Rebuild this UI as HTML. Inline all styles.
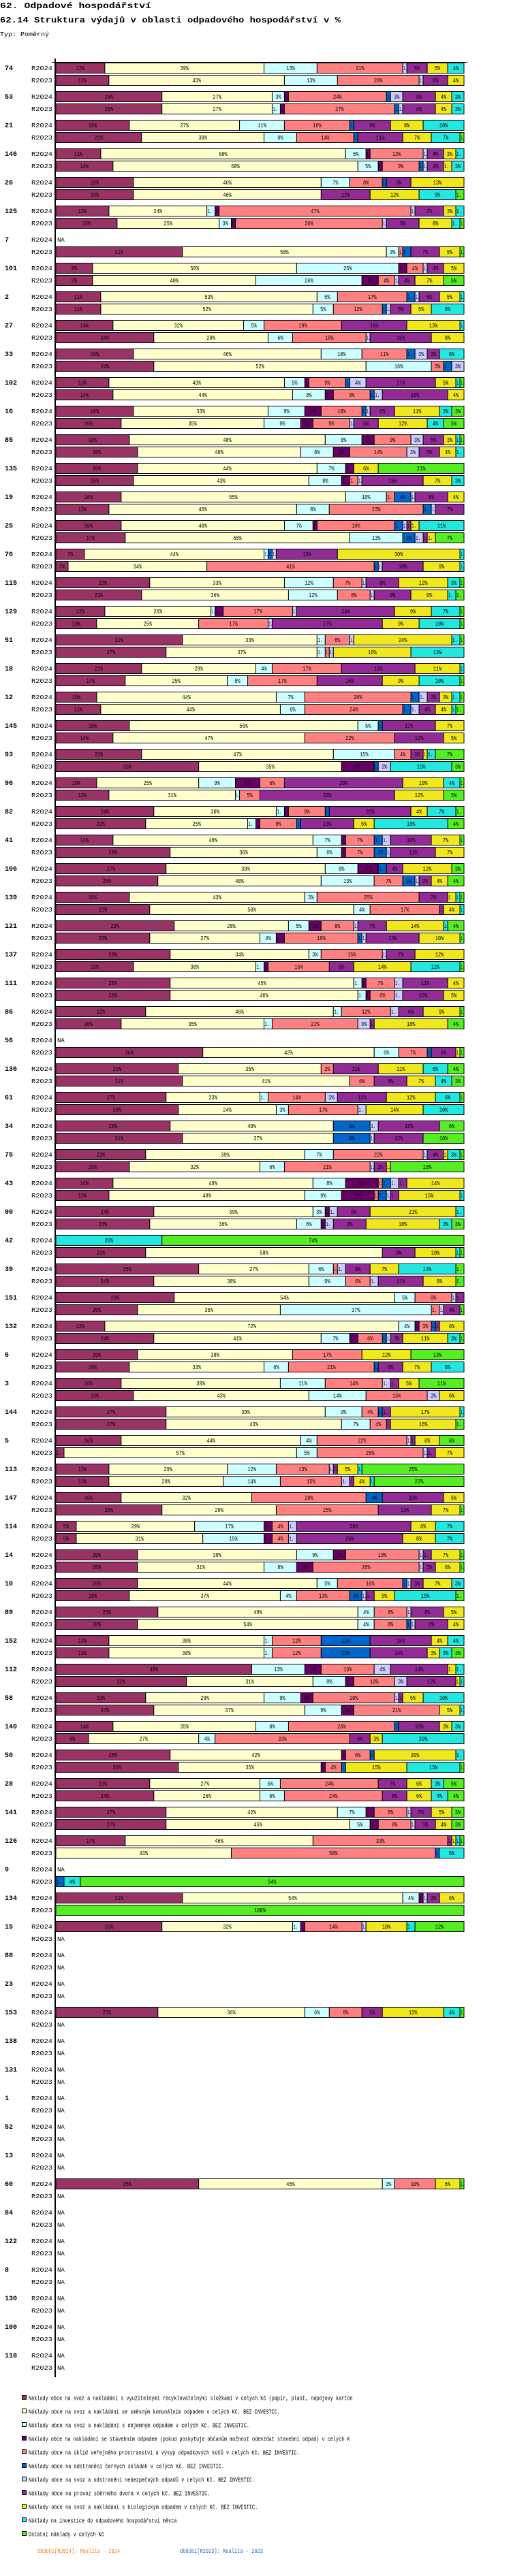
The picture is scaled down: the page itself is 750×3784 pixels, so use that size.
<!DOCTYPE html>
<html><head><meta charset="utf-8"><style>
html,body{margin:0;padding:0;background:#fff;}
svg{display:block;}
text{font-family:"Liberation Mono",monospace;}
</style></head><body>
<svg id="chart" xmlns="http://www.w3.org/2000/svg" width="750" height="3784" viewBox="0 0 750 3784">
<text x="0" y="12" font-size="11.5" font-weight="bold" textLength="222" lengthAdjust="spacingAndGlyphs">62. Odpadové hospodářství</text>
<text x="0" y="33" font-size="11.5" font-weight="bold" textLength="500" lengthAdjust="spacingAndGlyphs">62.14 Struktura výdajů v oblasti odpadového hospodářství v %</text>
<text x="0" y="53" font-size="9" textLength="72" lengthAdjust="spacingAndGlyphs">Typ: Poměrný</text>
<g id="plot"></g>
<g id="legend"></g>
<text x="55" y="3750" font-size="9.5" fill="#F08020" textLength="121" lengthAdjust="spacingAndGlyphs">Období[R2024]: Realita - 2024</text>
<text x="264" y="3750" font-size="9.5" fill="#2070B8" textLength="122" lengthAdjust="spacingAndGlyphs">Období[R2023]: Realita - 2023</text>
</svg>
<script>
const groupLabels=["74","53","21","146","26","125","7","101","2","27","33","102","16","85","135","19","25","76","115","129","51","18","12","145","93","96","82","41","106","139","121","137","111","86","56","136","61","34","75","43","90","42","39","151","132","6","3","144","5","113","147","114","14","10","89","152","112","58","140","50","28","141","126","9","134","15","88","23","153","138","131","1","52","13","60","84","122","8","130","100","118"];
const seriesNames=["R2024","R2023"];
const categoryNames=[
"Náklady obce na svoz a nakládání s využitelnými recyklovatelnými složkami v celých Kč (papír, plast, nápojový karton",
"Náklady obce na svoz a nakládání se směsným komunálním odpadem v celých Kč.  BEZ INVESTIC.",
"Náklady obce na svoz a nakládání s objemným odpadem v celých Kč.  BEZ INVESTIC.",
"Náklady obce na nakládání se stavebním odpadem (pokud poskytuje občanům možnost odevzdat stavební odpad) v celých K",
"Náklady obce na úklid veřejného prostranství a výsyp odpadkových košů v celých Kč.  BEZ INVESTIC.",
"Náklady obce na odstranění černých skládek v celých Kč.  BEZ INVESTIC.",
"Náklady obce na svoz a odstranění nebezpečných odpadů v celých Kč.  BEZ INVESTIC.",
"Náklady obce na provoz sběrného dvora v celých Kč.  BEZ INVESTIC.",
"Náklady obce na svoz a nakládání s biologickým odpadem v celých Kč.  BEZ INVESTIC.",
"Náklady na investice do odpadového hospodářství města",
"Ostatní náklady v celých Kč"];
const values2024=[
[12,39,13,0,21,0,1,5,5,4,0],[26,27,3,1,24,1,3,8,4,3,0],[18,27,11,0,16,1,0,9,8,10,0],[11,60,5,1,13,0,1,4,3,2,0],
[19,46,7,0,8,1,0,6,13,0,0],[13,24,2,1,47,0,1,7,3,2,0],null,[9,50,25,2,4,0,1,4,5,0,0],
[11,53,5,0,17,2,1,5,5,1,0],[14,32,5,0,19,0,0,16,13,1,0],[19,46,10,0,11,2,3,3,0,6,0],[13,43,5,1,9,1,4,17,5,1,1],
[19,33,9,4,10,1,1,6,11,3,3],[18,48,9,3,9,0,3,5,3,1,1],[20,44,7,2,0,0,0,0,6,0,21],[16,55,10,0,2,4,1,8,4,0,0],
[16,40,7,1,19,2,1,1,2,11,0],[7,44,1,0,0,1,1,15,30,1,0],[23,33,12,0,7,0,1,8,12,3,1],[12,26,1,2,17,0,1,24,9,7,1],
[31,33,2,0,6,0,1,0,24,2,1],[21,28,4,0,17,0,0,18,11,1,0],[10,44,7,0,26,2,2,3,3,2,1],[18,56,5,0,0,1,0,13,7,0,0],
[21,47,15,0,4,0,0,3,1,2,7],[10,25,9,6,6,0,0,29,10,4,1],[24,30,2,1,9,1,0,20,4,7,2],[14,49,7,1,7,2,2,10,7,0,1],
[27,39,8,5,0,2,0,4,12,0,3],[18,43,3,0,25,0,0,7,2,1,1],[29,28,5,3,8,0,1,7,14,1,4],[28,34,3,0,15,0,1,7,12,0,0],
[28,45,2,1,7,0,2,11,4,0,0],[22,46,2,0,12,0,2,6,9,0,1],null,[30,35,0,0,3,0,0,11,11,6,4],
[27,23,2,0,14,0,3,12,12,6,1],[28,40,0,0,0,9,2,15,0,0,6],[22,39,7,0,22,0,1,4,1,3,1],[14,49,8,8,1,2,2,2,14,0,0],
[24,39,3,1,0,0,2,8,21,2,0],[0,0,0,0,0,0,0,0,0,26,74],[35,27,6,0,1,0,2,6,7,14,2],[29,54,5,0,9,0,1,2,0,0,0],
[12,72,4,1,3,1,0,1,6,0,0],[20,38,0,0,17,0,0,0,12,0,13],[16,39,11,0,14,0,2,2,5,0,11],[27,39,9,0,4,1,0,2,17,1,0],
[16,44,4,0,22,0,1,1,6,0,6],[13,29,12,0,13,0,1,1,5,1,25],[16,32,0,0,28,4,0,15,5,0,0],[5,29,17,2,4,0,2,28,6,7,0],
[20,39,9,3,18,0,1,2,7,0,1],[20,44,5,0,16,1,1,3,7,3,0],[25,49,4,0,8,0,1,8,5,0,0],[13,38,2,0,12,12,0,15,4,4,0],
[48,0,13,4,13,0,4,14,2,2,0],[22,29,9,3,20,0,1,1,5,10,0],[14,35,8,0,26,1,0,10,3,3,0],[28,42,0,1,6,1,0,0,20,2,0],
[23,27,5,0,24,0,0,7,6,3,5],[27,42,7,2,8,0,1,5,5,0,3],[17,46,0,0,33,0,0,1,1,1,1],null,
[31,54,4,1,0,0,1,3,6,0,0],[26,32,2,1,14,0,1,0,10,2,12],null,null,
[25,36,6,0,8,0,0,5,15,4,1],null,null,null,null,null,
[35,45,3,0,10,0,0,0,6,0,1],null,null,null,null,null,null];
const values2023=[
[13,43,13,0,20,0,1,6,4,0,0],[26,27,2,1,27,1,1,8,4,3,0],[21,30,8,0,14,1,0,11,7,7,1],[14,60,5,1,9,1,1,4,2,3,0],
[19,46,0,0,0,0,0,12,12,9,2],[15,25,3,1,36,0,1,8,8,2,1],[31,50,3,0,1,2,0,7,5,0,1],[9,40,26,4,4,0,1,4,7,0,5],
[11,52,5,0,12,1,1,5,5,8,0],[24,28,6,0,18,0,1,15,8,0,0],[24,52,16,0,3,2,3,0,0,0,0],[14,44,8,2,9,1,2,16,4,0,0],
[16,35,9,3,9,0,1,6,12,4,5],[20,40,8,4,14,0,3,5,4,2,0],[19,43,8,2,2,0,1,15,7,3,0],[13,46,8,0,23,2,1,7,0,0,0],
[17,55,13,0,0,3,2,1,2,0,7],[3,34,0,0,41,1,1,10,9,1,0],[21,36,12,0,8,0,1,9,9,2,2],[10,25,0,0,17,0,1,27,9,10,1],
[27,37,2,0,1,0,1,0,19,13,0],[17,25,5,0,17,0,0,16,9,10,1],[11,44,6,0,24,2,2,4,4,1,2],[14,47,0,0,22,0,0,12,5,0,0],
[35,35,0,8,0,1,3,0,0,15,3],[13,31,1,0,5,0,0,33,12,0,5],[22,25,2,1,9,1,0,13,5,18,4],[28,36,6,1,7,3,1,11,7,0,0],
[25,40,13,0,7,3,1,3,4,0,4],[23,50,4,0,17,0,0,1,4,1,0],[23,27,4,2,18,1,1,13,10,0,1],[19,30,2,1,15,0,0,6,14,12,1],
[28,46,2,1,6,0,2,10,5,0,0],[16,35,2,0,21,0,3,1,18,0,4],[36,42,6,0,7,1,0,6,1,0,1],[31,41,0,0,6,0,0,8,7,4,3],
[30,24,3,0,17,0,2,0,14,10,0],[31,37,0,0,0,9,1,12,0,0,10],[18,32,6,0,21,0,1,3,1,0,18],[13,48,9,8,1,2,1,2,15,1,0],
[23,36,6,1,0,0,2,8,18,3,3],[22,58,0,0,0,0,0,8,10,1,1],[24,38,9,0,6,0,2,11,8,0,2],[20,35,37,0,2,0,1,4,0,0,1],
[24,41,7,2,6,1,1,3,11,3,1],[18,33,6,0,21,1,0,6,7,8,0],[19,43,14,0,15,0,3,0,6,0,0],[27,43,7,0,4,0,0,1,16,0,2],
[2,57,5,0,26,0,1,2,7,0,0],[13,28,14,0,15,0,2,1,4,1,22],[26,28,0,0,25,0,0,13,7,0,1],[5,31,15,2,4,0,2,26,8,7,0],
[20,31,8,4,26,0,1,3,6,0,1],[18,37,4,0,13,3,1,2,5,15,2],[20,54,4,0,8,1,1,8,4,0,0],[13,38,2,0,12,12,0,14,3,3,3],
[32,31,8,2,10,0,3,12,1,1,0],[24,37,9,3,21,0,0,0,5,1,0],[8,27,4,0,33,0,0,5,3,20,0],[30,35,0,1,4,1,0,0,15,13,1],
[24,26,6,0,24,0,0,6,6,4,4],[27,45,5,2,8,0,1,5,4,0,3],[0,43,0,0,50,1,0,0,0,6,0],[0,0,0,0,0,2,0,0,0,4,94],
[0,0,0,0,0,0,0,0,0,0,100],null,null,null,
null,null,null,null,null,null,
null,null,null,null,null,null,null];
</script>
<script>
const colors=["#993366","#FFFFCC","#CCFFFF","#660066","#FF8080","#0066CC","#CCCCFF","#922B96","#F0E81C","#22E8E0","#55EE22"];
const NS="http://www.w3.org/2000/svg";
const plot=document.getElementById('plot');
const X0=82, W=599, TOP=92, PITCH=42, ROW=18, BH=15;
function xScale(frac){return X0+frac*W;}
function groupY(i){return TOP+i*PITCH;}
function mk(tag,attrs,parent){const e=document.createElementNS(NS,tag);for(const k in attrs)e.setAttribute(k,attrs[k]);parent.appendChild(e);return e;}
function txt(parent,x,y,s,size,extra){const t=mk('text',Object.assign({x:x,y:y,'font-size':size},extra||{}),parent);t.textContent=s;return t;}
const nG=groupLabels.length;
// axis
const axis=mk('line',{x1:81,y1:86,x2:81,y2:groupY(nG-1)+40,stroke:'#000','stroke-width':2},plot);


const topLine=mk('line',{x1:76,y1:91.5,x2:686,y2:91.5,stroke:'#000','stroke-width':1},plot);


for(let g=0;g<nG;g++){
  const gy=groupY(g);
  const gl=txt(plot,7,gy+11,groupLabels[g],10,{'font-weight':'bold'});
  
  
  [values2024[g],values2023[g]].forEach((vals,si)=>{
    const y=gy+si*ROW;
    const rl=txt(plot,77,y+11,seriesNames[si],9,{'text-anchor':'end',textLength:31,lengthAdjust:'spacingAndGlyphs'});
    
    
    if(!vals){
      const na=txt(plot,84,y+11,'NA',9);
      
      
      return;
    }
    const tot=vals.reduce((a,b)=>a+b,0);
    let cum=0;
    vals.forEach((v,c)=>{
      if(v<=0)return;
      const x1=xScale(cum/tot), x2=xScale((cum+v)/tot); cum+=v;
      const r=mk('rect',{x:x1,y:y+0.5,width:Math.max(x2-x1,0.5),height:BH,fill:colors[c],stroke:'#000','stroke-width':1},plot);
      
      
      const w=x2-x1;
      if(w>=13){
        const lab=txt(plot,(x1+x2)/2,y+11,v+'%',9,{'text-anchor':'middle',textLength:(String(v).length+1)*4.2,lengthAdjust:'spacingAndGlyphs'});
        
        
      }else if(w>=5){
        const lab=txt(plot,x1+1,y+11,'1.',9,{textLength:Math.min(w-1,7),lengthAdjust:'spacingAndGlyphs'});
        
        
      }
    });
  });
}
const leg=document.getElementById('legend');
categoryNames.forEach((n,i)=>{
  const cy=3522+i*20;
  const sq=mk('rect',{x:32.5,y:cy-3.5,width:6,height:6,fill:colors[i],stroke:'#000','stroke-width':1},leg);
  
  
  const t=txt(leg,42,cy+3.5,n,9.5,{textLength:n.length*4.1,lengthAdjust:'spacingAndGlyphs'});
  
  
});
</script>
</body></html>
